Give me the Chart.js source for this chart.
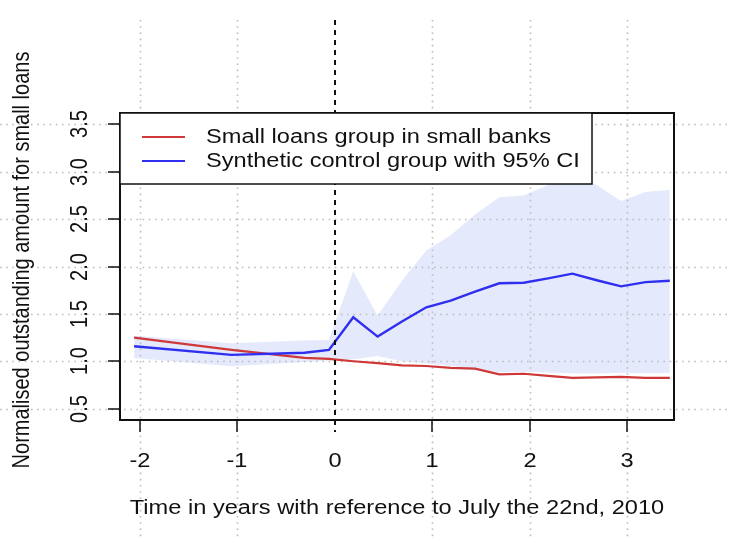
<!DOCTYPE html>
<html>
<head>
<meta charset="utf-8">
<script src="https://cdn.jsdelivr.net/npm/chart.js@4/dist/chart.umd.min.js"></script>
<style>
  html, body { margin: 0; padding: 0; background: #ffffff; }
  #wrap { width: 730px; height: 538px; }
</style>
</head>
<body>
<div id="wrap"><canvas id="c" width="730" height="538"></canvas></div>
<script>
// Quarter-end observations, in years relative to 22 July 2010
const years = [-2.06, -1.06, -0.31, -0.06, 0.19, 0.44, 0.69, 0.94, 1.19, 1.44, 1.69, 1.94, 2.19, 2.44, 2.69, 2.94, 3.19, 3.44];
// Treated series: small loans in small banks
const smallBanks = [1.25, 1.12, 1.035, 1.025, 1.00, 0.98, 0.957, 0.95, 0.93, 0.922, 0.862, 0.868, 0.845, 0.825, 0.83, 0.836, 0.825, 0.825];
// Synthetic control and its 95% confidence band
const synthetic = [1.158, 1.067, 1.09, 1.12, 1.464, 1.26, 1.42, 1.57, 1.64, 1.735, 1.823, 1.828, 1.875, 1.925, 1.855, 1.79, 1.835, 1.85];
const ciLower = [1.035, 0.947, 0.993, 1.007, 1.02, 1.056, 1.0, 0.975, 0.95, 0.92, 0.885, 0.89, 0.88, 0.873, 0.872, 0.878, 0.873, 0.875];
const ciUpper = [1.27, 1.19, 1.218, 1.225, 1.95, 1.48, 1.85, 2.17, 2.33, 2.55, 2.73, 2.75, 2.86, 2.98, 2.86, 2.69, 2.786, 2.81];

const xTicks = [-2, -1, 0, 1, 2, 3];
const yTicks = [0.5, 1.0, 1.5, 2.0, 2.5, 3.0, 3.5];
const yTickLabels = ['0.5', '1.0', '1.5', '2.0', '2.5', '3.0', '3.5'];
const seriesNames = ['Small loans group in small banks', 'Synthetic control group with 95% CI'];
const xTitle = 'Time in years with reference to July the 22nd, 2010';
const yTitle = 'Normalised outstanding amount for small loans';

const RED = '#cf3838';
const BLUE = '#2f2ff0';
const BAND = 'rgb(228,233,252)';
const FONT = '20px "Liberation Sans", Arial, sans-serif';
const WIDEN = 1.18;   // glyphs are drawn slightly wider than tall

const pairs = (ys) => years.map((x, i) => ({ x: x, y: ys[i] }));

function flatText(ctx, text, x, y, align) {
  ctx.save();
  ctx.translate(x, y);
  ctx.scale(WIDEN, 1);
  ctx.textAlign = align;
  ctx.fillText(text, 0, 0);
  ctx.restore();
}

function upText(ctx, text, x, y) {
  ctx.save();
  ctx.translate(x, y);
  ctx.rotate(-Math.PI / 2);
  ctx.scale(1, WIDEN);
  ctx.textAlign = 'center';
  ctx.fillText(text, 0, 0);
  ctx.restore();
}

const BAND_INDEX = 2;

const frame = {
  id: 'frame',
  afterDatasetDraw(chart, args) {
    if (args.index !== BAND_INDEX) return;
    // dotted reference grid, running across the whole canvas
    const ctx = chart.ctx, xs = chart.scales.x, ys = chart.scales.y;
    ctx.save();
    ctx.strokeStyle = '#bdbdbd';
    ctx.lineWidth = 1.6;
    ctx.setLineDash([1.6, 4.6]);
    xTicks.forEach(v => {
      if (v === 0) return;
      const px = Math.round(xs.getPixelForValue(v)) + 0.5;
      ctx.beginPath(); ctx.moveTo(px, 20); ctx.lineTo(px, 538); ctx.stroke();
    });
    yTicks.forEach(v => {
      const py = Math.round(ys.getPixelForValue(v)) + 0.5;
      ctx.beginPath(); ctx.moveTo(0, py); ctx.lineTo(730, py); ctx.stroke();
    });
    ctx.restore();
  },
  afterDatasetsDraw(chart) {
    const ctx = chart.ctx, xs = chart.scales.x, ys = chart.scales.y, a = chart.chartArea;
    ctx.save();

    // dashed marker at the reference date
    const x0 = Math.round(xs.getPixelForValue(0));
    ctx.strokeStyle = '#111';
    ctx.lineWidth = 2;
    ctx.setLineDash([5, 5]);
    ctx.beginPath(); ctx.moveTo(x0, 20); ctx.lineTo(x0, a.bottom + 12); ctx.stroke();
    ctx.setLineDash([]);

    // plot frame
    ctx.strokeStyle = '#111';
    ctx.lineWidth = 2;
    ctx.strokeRect(a.left, a.top, a.right - a.left, a.bottom - a.top);

    // tick marks and labels
    ctx.fillStyle = '#111';
    ctx.font = FONT;
    ctx.lineWidth = 1.5;
    ctx.textBaseline = 'middle';
    xTicks.forEach(v => {
      const px = Math.round(xs.getPixelForValue(v));
      if (v !== 0) { ctx.beginPath(); ctx.moveTo(px, a.bottom); ctx.lineTo(px, a.bottom + 12); ctx.stroke(); }
      flatText(ctx, String(v), px, 461, 'center');
    });
    yTicks.forEach((v, i) => {
      const py = Math.round(ys.getPixelForValue(v));
      ctx.beginPath(); ctx.moveTo(a.left - 12, py); ctx.lineTo(a.left, py); ctx.stroke();
      upText(ctx, yTickLabels[i], 80, py);
    });

    // axis titles
    flatText(ctx, xTitle, (a.left + a.right) / 2, 508, 'center');
    upText(ctx, yTitle, 22, 260);

    // legend box in the top-left corner of the plot
    const lx = a.left, ly = a.top, lw = 472, lh = 71;
    ctx.fillStyle = '#ffffff';
    ctx.fillRect(lx, ly, lw, lh);
    ctx.strokeStyle = '#111';
    ctx.lineWidth = 1.5;
    ctx.strokeRect(lx, ly, lw, lh);
    const entries = [chart.data.datasets[1], chart.data.datasets[0]];
    entries.forEach((ds, i) => {
      const ry = ly + 24 + i * 24;
      ctx.strokeStyle = ds.borderColor;
      ctx.lineWidth = 2;
      ctx.beginPath(); ctx.moveTo(lx + 22, ry); ctx.lineTo(lx + 65, ry); ctx.stroke();
      ctx.fillStyle = '#111';
      flatText(ctx, seriesNames[i], lx + 86, ry, 'left');
    });
    ctx.restore();
  }
};

new Chart(document.getElementById('c'), {
  type: 'line',
  data: {
    datasets: [
      { label: seriesNames[1], data: pairs(synthetic), borderColor: BLUE, borderWidth: 2.4, pointRadius: 0, fill: false },
      { label: seriesNames[0], data: pairs(smallBanks), borderColor: RED, borderWidth: 2.2, pointRadius: 0, fill: false },
      { label: 'upper', data: pairs(ciUpper), borderWidth: 0, borderColor: 'rgba(0,0,0,0)', backgroundColor: BAND, pointRadius: 0, fill: '+1' },
      { label: 'lower', data: pairs(ciLower), borderWidth: 0, borderColor: 'rgba(0,0,0,0)', pointRadius: 0, fill: false }
    ]
  },
  options: {
    responsive: false,
    animation: false,
    devicePixelRatio: 1,
    layout: { padding: { left: 120, right: 56, top: 113, bottom: 118 } },
    elements: { line: { tension: 0 } },
    plugins: { legend: { display: false }, tooltip: { enabled: false } },
    scales: {
      x: { type: 'linear', min: -2.205, max: 3.483, display: false },
      y: { type: 'linear', min: 0.38, max: 3.62, display: false }
    }
  },
  plugins: [frame]
});
</script>
</body>
</html>
